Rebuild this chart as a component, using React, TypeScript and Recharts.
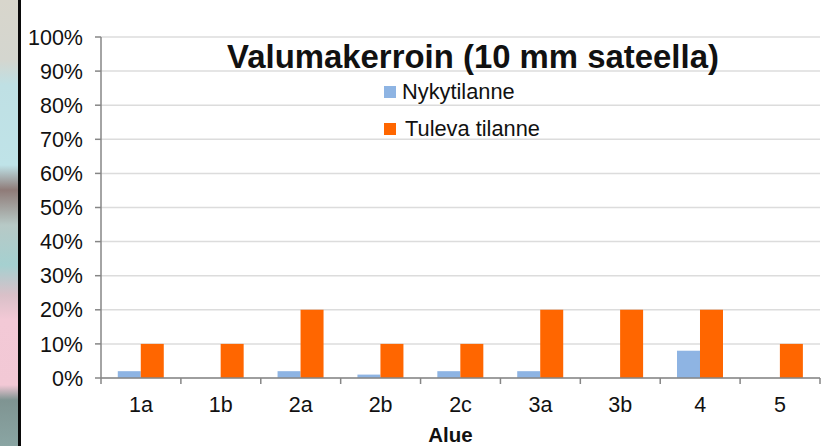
import React from "react";
import { BarChart, Bar, XAxis, YAxis, CartesianGrid, Legend } from "recharts";

const categories = ["1a", "1b", "2a", "2b", "2c", "3a", "3b", "4", "5"];
const nykytilanne = [2, 0, 2, 1, 2, 2, 0, 8, 0];
const tuleva = [10, 10, 20, 10, 10, 20, 20, 20, 10];
const yTicks = [0, 10, 20, 30, 40, 50, 60, 70, 80, 90, 100];
const titleText = "Valumakerroin (10 mm sateella)";
const seriesNames = ["Nykytilanne", "Tuleva tilanne"];
const seriesColors = ["#8EB4E3", "#FF6600"];

const data = categories.map((c, i) => ({ c, n: nykytilanne[i], t: tuleva[i] }));
const font = "'Liberation Sans', Arial, sans-serif";
const axisColor = "#868686";
const TICK_SIZE = 6;
const TICK_MARGIN = 12;

const LegendContent = () => (
  <div style={{ fontFamily: font, fontSize: 21.8, color: "#111" }}>
    {seriesNames.map((name, i) => (
      <div key={name} style={{ display: "flex", alignItems: "center", height: 37, whiteSpace: "nowrap" }}>
        <span style={{ width: 12, height: 12, background: seriesColors[i], marginRight: i === 0 ? 6 : 9, display: "inline-block" }} />
        {name}
      </div>
    ))}
  </div>
);

const CategoryTick = (props: any) => {
  const { x, y, payload, index } = props;
  const half = payload.offset || 0;
  const top = y - TICK_SIZE - TICK_MARGIN;
  const isLast = index === categories.length - 1;
  return (
    <g>
      <line x1={x - half} x2={x - half} y1={top} y2={top + TICK_SIZE} stroke={axisColor} strokeWidth={1.5} />
      {isLast && <line x1={x + half} x2={x + half} y1={top} y2={top + TICK_SIZE} stroke={axisColor} strokeWidth={1.5} />}
      <text x={x} y={y} dy={16} textAnchor="middle" fontFamily={font} fontSize={21.5} fill="#111">
        {payload.value}
      </text>
    </g>
  );
};

export default function App() {
  return (
    <div style={{ position: "fixed", left: 0, top: 0, width: 823, height: 446, background: "#fff", overflow: "hidden" }}>
      <div
        style={{
          position: "absolute", left: 0, top: 0, width: 18, height: 446,
          background:
            "linear-gradient(180deg,#d8d6cc 0,#d4d6cf 60px,#bfe0e4 85px,#bfe3e8 165px,#8f7b78 190px,#b7c9c6 225px,#a5d0d0 265px,#d9c0c8 295px,#f3c9d6 320px,#f2c8d5 385px,#7f9492 400px,#8aa5a3 446px)",
        }}
      />
      <div style={{ position: "absolute", left: 18, top: 0, width: 2.5, height: 446, background: "#0a0a0a" }} />
      <BarChart
        width={823}
        height={446}
        data={data}
        margin={{ top: 37, right: 3, bottom: 0, left: 0 }}
        barCategoryGap="21%"
        barGap={0}
        style={{ position: "absolute", left: 0, top: 0 }}
      >
        <CartesianGrid horizontal vertical={false} stroke="#dcdcdc" strokeWidth={1.5} />
        <XAxis
          dataKey="c"
          height={68}
          stroke={axisColor}
          strokeWidth={1.5}
          tickLine={false}
          tickSize={TICK_SIZE}
          tickMargin={TICK_MARGIN}
          interval={0}
          tick={<CategoryTick />}
          label={{ value: "Alue", position: "insideBottom", offset: 1, dx: -10, dy: -3, style: { fontFamily: font, fontSize: 20.5, fontWeight: 700, fill: "#111" } }}
        />
        <YAxis
          domain={[0, 100]}
          ticks={yTicks}
          width={101}
          interval={0}
          tickFormatter={(v: number) => `${v}%`}
          tick={{ fontFamily: font, fontSize: 21.5, fill: "#111" }}
          stroke={axisColor}
          strokeWidth={1.5}
          tickSize={6}
          tickMargin={12}
        />
        <Legend
          layout="vertical"
          verticalAlign="middle"
          align="center"
          content={<LegendContent />}
          wrapperStyle={{ position: "absolute", left: 384, top: 73, width: 200 }}
        />
        <Bar dataKey="n" name={seriesNames[0]} fill={seriesColors[0]} isAnimationActive={false} />
        <Bar dataKey="t" name={seriesNames[1]} fill={seriesColors[1]} isAnimationActive={false} />
      </BarChart>
      <div
        style={{
          position: "absolute", left: 173, width: 600, top: 38, textAlign: "center",
          fontFamily: font, fontWeight: 700, fontSize: 32.9, color: "#111", whiteSpace: "nowrap",
        }}
      >
        {titleText}
      </div>
    </div>
  );
}
